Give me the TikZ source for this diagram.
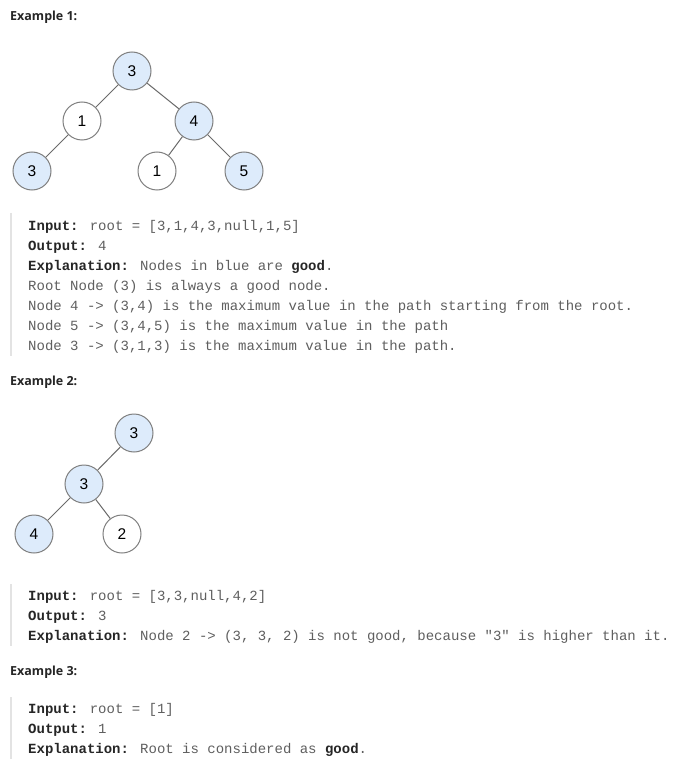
\documentclass[tikz,border=0pt]{standalone}
\usepackage{fontspec}
\newfontfamily\headfam{Open Sans}
\newfontfamily\codefam{Liberation Mono}[Ligatures=TeXOff]
\newfontfamily\numfam{Liberation Sans}
\newcommand\headfont{\headfam\bfseries\fontsize{12.5}{15}\selectfont}
\newcommand\codefont{\codefam\fontsize{14}{16}\selectfont}
\newcommand\numfont{\numfam\fontsize{15.5}{18}\selectfont}
\newcommand\lbl[1]{\textcolor{labelcol}{\bfseries #1}}
\definecolor{goodfill}{HTML}{DDEBFB}
\definecolor{nodeborder}{HTML}{7F7F7F}
\definecolor{edgecol}{HTML}{6A6A6A}
\definecolor{headcol}{HTML}{262626}
\definecolor{labelcol}{HTML}{262626}
\definecolor{codegray}{HTML}{5F5F5F}
\definecolor{barcol}{HTML}{E3E3E3}
\tikzset{
  tn/.style={circle, draw=nodeborder, line width=1pt, minimum size=38pt, inner sep=0pt, font=\numfont, text=black},
  good/.style={tn, fill=goodfill},
  plain/.style={tn, fill=white},
  edge/.style={draw=edgecol, line width=1pt},
  heading/.style={anchor=west, font=\headfont, text=headcol, inner sep=0pt},
  codeline/.style={anchor=base west, font=\codefont, text=codegray, inner sep=0pt},
  bar/.style={draw=barcol, line width=2pt}
}
\begin{document}
\begin{tikzpicture}[x=1pt,y=-1pt]
\path[use as bounding box, fill=white] (0,0) rectangle (682,767);
% Example 1
\node[heading] (h1) at (10,17) {Example 1:};
\node[good]  (a3)  at (132,71)  {3};
\node[plain] (a1)  at (82,121)  {1};
\node[good]  (a4)  at (194,121) {4};
\node[good]  (a3b) at (32,171)  {3};
\node[plain] (a1b) at (157,171) {1};
\node[good]  (a5)  at (244,171) {5};
\draw[edge] (a3) -- (a1);
\draw[edge] (a3) -- (a4);
\draw[edge] (a1) -- (a3b);
\draw[edge] (a4) -- (a1b);
\draw[edge] (a4) -- (a5);
\draw[bar] (11,213) -- (11,356);
\node[codeline] (t11) at (28,230) {\lbl{Input:} root = [3,1,4,3,null,1,5]};
\node[codeline] (t12) at (28,250) {\lbl{Output:} 4};
\node[codeline] (t13) at (28,270) {\lbl{Explanation:} Nodes in blue are \lbl{good}.};
\node[codeline] (t14) at (28,290) {Root Node (3) is always a good node.};
\node[codeline] (t15) at (28,310) {Node 4 -> (3,4) is the maximum value in the path starting from the root.};
\node[codeline] (t16) at (28,330) {Node 5 -> (3,4,5) is the maximum value in the path};
\node[codeline] (t17) at (28,350) {Node 3 -> (3,1,3) is the maximum value in the path.};
% Example 2
\node[heading] (h2) at (10,382) {Example 2:};
\node[good]  (b3)  at (134,433) {3};
\node[good]  (b3b) at (84,484)  {3};
\node[good]  (b4)  at (34,534)  {4};
\node[plain] (b2)  at (122,534) {2};
\draw[edge] (b3) -- (b3b);
\draw[edge] (b3b) -- (b4);
\draw[edge] (b3b) -- (b2);
\draw[bar] (11,584) -- (11,646);
\node[codeline] (t21) at (28,600) {\lbl{Input:} root = [3,3,null,4,2]};
\node[codeline] (t22) at (28,620) {\lbl{Output:} 3};
\node[codeline] (t23) at (28,640) {\lbl{Explanation:} Node 2 -> (3, 3, 2) is not good, because "3" is higher than it.};
% Example 3
\node[heading] (h3) at (10,672) {Example 3:};
\draw[bar] (11,697) -- (11,759);
\node[codeline] (t31) at (28,713) {\lbl{Input:} root = [1]};
\node[codeline] (t32) at (28,733) {\lbl{Output:} 1};
\node[codeline] (t33) at (28,753) {\lbl{Explanation:} Root is considered as \lbl{good}.};
\end{tikzpicture}
\end{document}
